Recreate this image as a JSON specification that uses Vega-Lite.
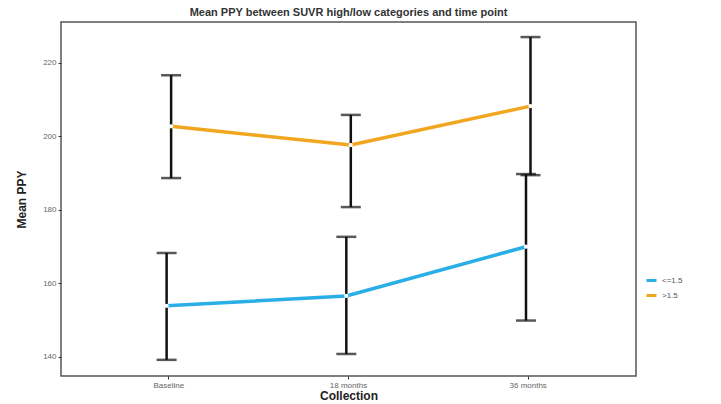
{
  "$schema": "https://vega.github.io/schema/vega-lite/v6.json",
  "autosize": "none",
  "width": 575,
  "height": 354,
  "padding": {"left": 61, "top": 22, "right": 85, "bottom": 28},
  "background": "white",
  "title": {"text": "Mean PPY between SUVR high/low categories and time point", "fontSize": 11, "fontWeight": "bold", "font": "Liberation Sans", "color": "#333", "anchor": "middle", "offset": 4},
  "data": {"values": [
    {"time": "Baseline", "group": "<=1.5", "mean": 153.8, "lo": 139.1, "hi": 168.2},
    {"time": "18 months", "group": "<=1.5", "mean": 156.5, "lo": 140.7, "hi": 172.6},
    {"time": "36 months", "group": "<=1.5", "mean": 169.9, "lo": 149.8, "hi": 189.7},
    {"time": "Baseline", "group": ">1.5", "mean": 202.7, "lo": 188.6, "hi": 216.6},
    {"time": "18 months", "group": ">1.5", "mean": 197.6, "lo": 180.7, "hi": 205.8},
    {"time": "36 months", "group": ">1.5", "mean": 208.2, "lo": 189.4, "hi": 227.0}
  ]},
  "encoding": {
    "x": {"field": "time", "type": "nominal", "sort": ["Baseline", "18 months", "36 months"],
      "scale": {"type": "band", "paddingInner": 0, "paddingOuter": 0.1},
      "axis": {"title": "Collection", "titleFontSize": 12, "titleFontWeight": "bold", "titleFont": "Liberation Sans", "titleColor": "#222", "titlePadding": 1, "labelAngle": 0, "labelFontSize": 8, "labelColor": "#666", "labelFont": "Liberation Sans", "tickColor": "#333", "tickSize": 3, "domain": false, "grid": false}},
    "xOffset": {"field": "group", "type": "nominal", "scale": {"type": "point", "range": [85.4, 94.4]}}
  },
  "layer": [
    {"mark": {"type": "rule", "color": "#111", "strokeWidth": 2.5},
     "encoding": {
       "y": {"field": "lo", "type": "quantitative", "scale": {"domain": [134.7, 231.1], "nice": false, "zero": false},
         "axis": {"title": "Mean PPY", "titleFontSize": 12, "titleFontWeight": "bold", "titleFont": "Liberation Sans", "titleColor": "#222", "titlePadding": 14, "values": [140, 160, 180, 200, 220], "labelFontSize": 8, "labelColor": "#666", "labelFont": "Liberation Sans", "tickColor": "#333", "tickSize": 3, "domain": false, "grid": false}},
       "y2": {"field": "hi"}}},
    {"mark": {"type": "tick", "color": "#111", "thickness": 2.5, "size": 20, "orient": "horizontal"},
     "encoding": {"y": {"field": "lo", "type": "quantitative"}}},
    {"mark": {"type": "tick", "color": "#111", "thickness": 2.5, "size": 20, "orient": "horizontal"},
     "encoding": {"y": {"field": "hi", "type": "quantitative"}}},
    {"mark": {"type": "line", "strokeWidth": 3.5},
     "encoding": {
       "y": {"field": "mean", "type": "quantitative"},
       "color": {"field": "group", "type": "nominal", "scale": {"domain": ["<=1.5", ">1.5"], "range": ["#29AEE6", "#F2A51F"]},
         "legend": {"title": null, "orient": "none", "legendX": 584, "legendY": 252, "symbolType": "stroke", "symbolStrokeWidth": 3, "symbolSize": 100, "labelFontSize": 8, "labelColor": "#555", "labelFont": "Liberation Sans", "rowPadding": 2}}}},
    {"mark": {"type": "point", "filled": true, "color": "white", "size": 18, "opacity": 1},
     "encoding": {"y": {"field": "mean", "type": "quantitative"}}}
  ],
  "config": {"view": {"stroke": "#555", "strokeWidth": 1.5}}
}
